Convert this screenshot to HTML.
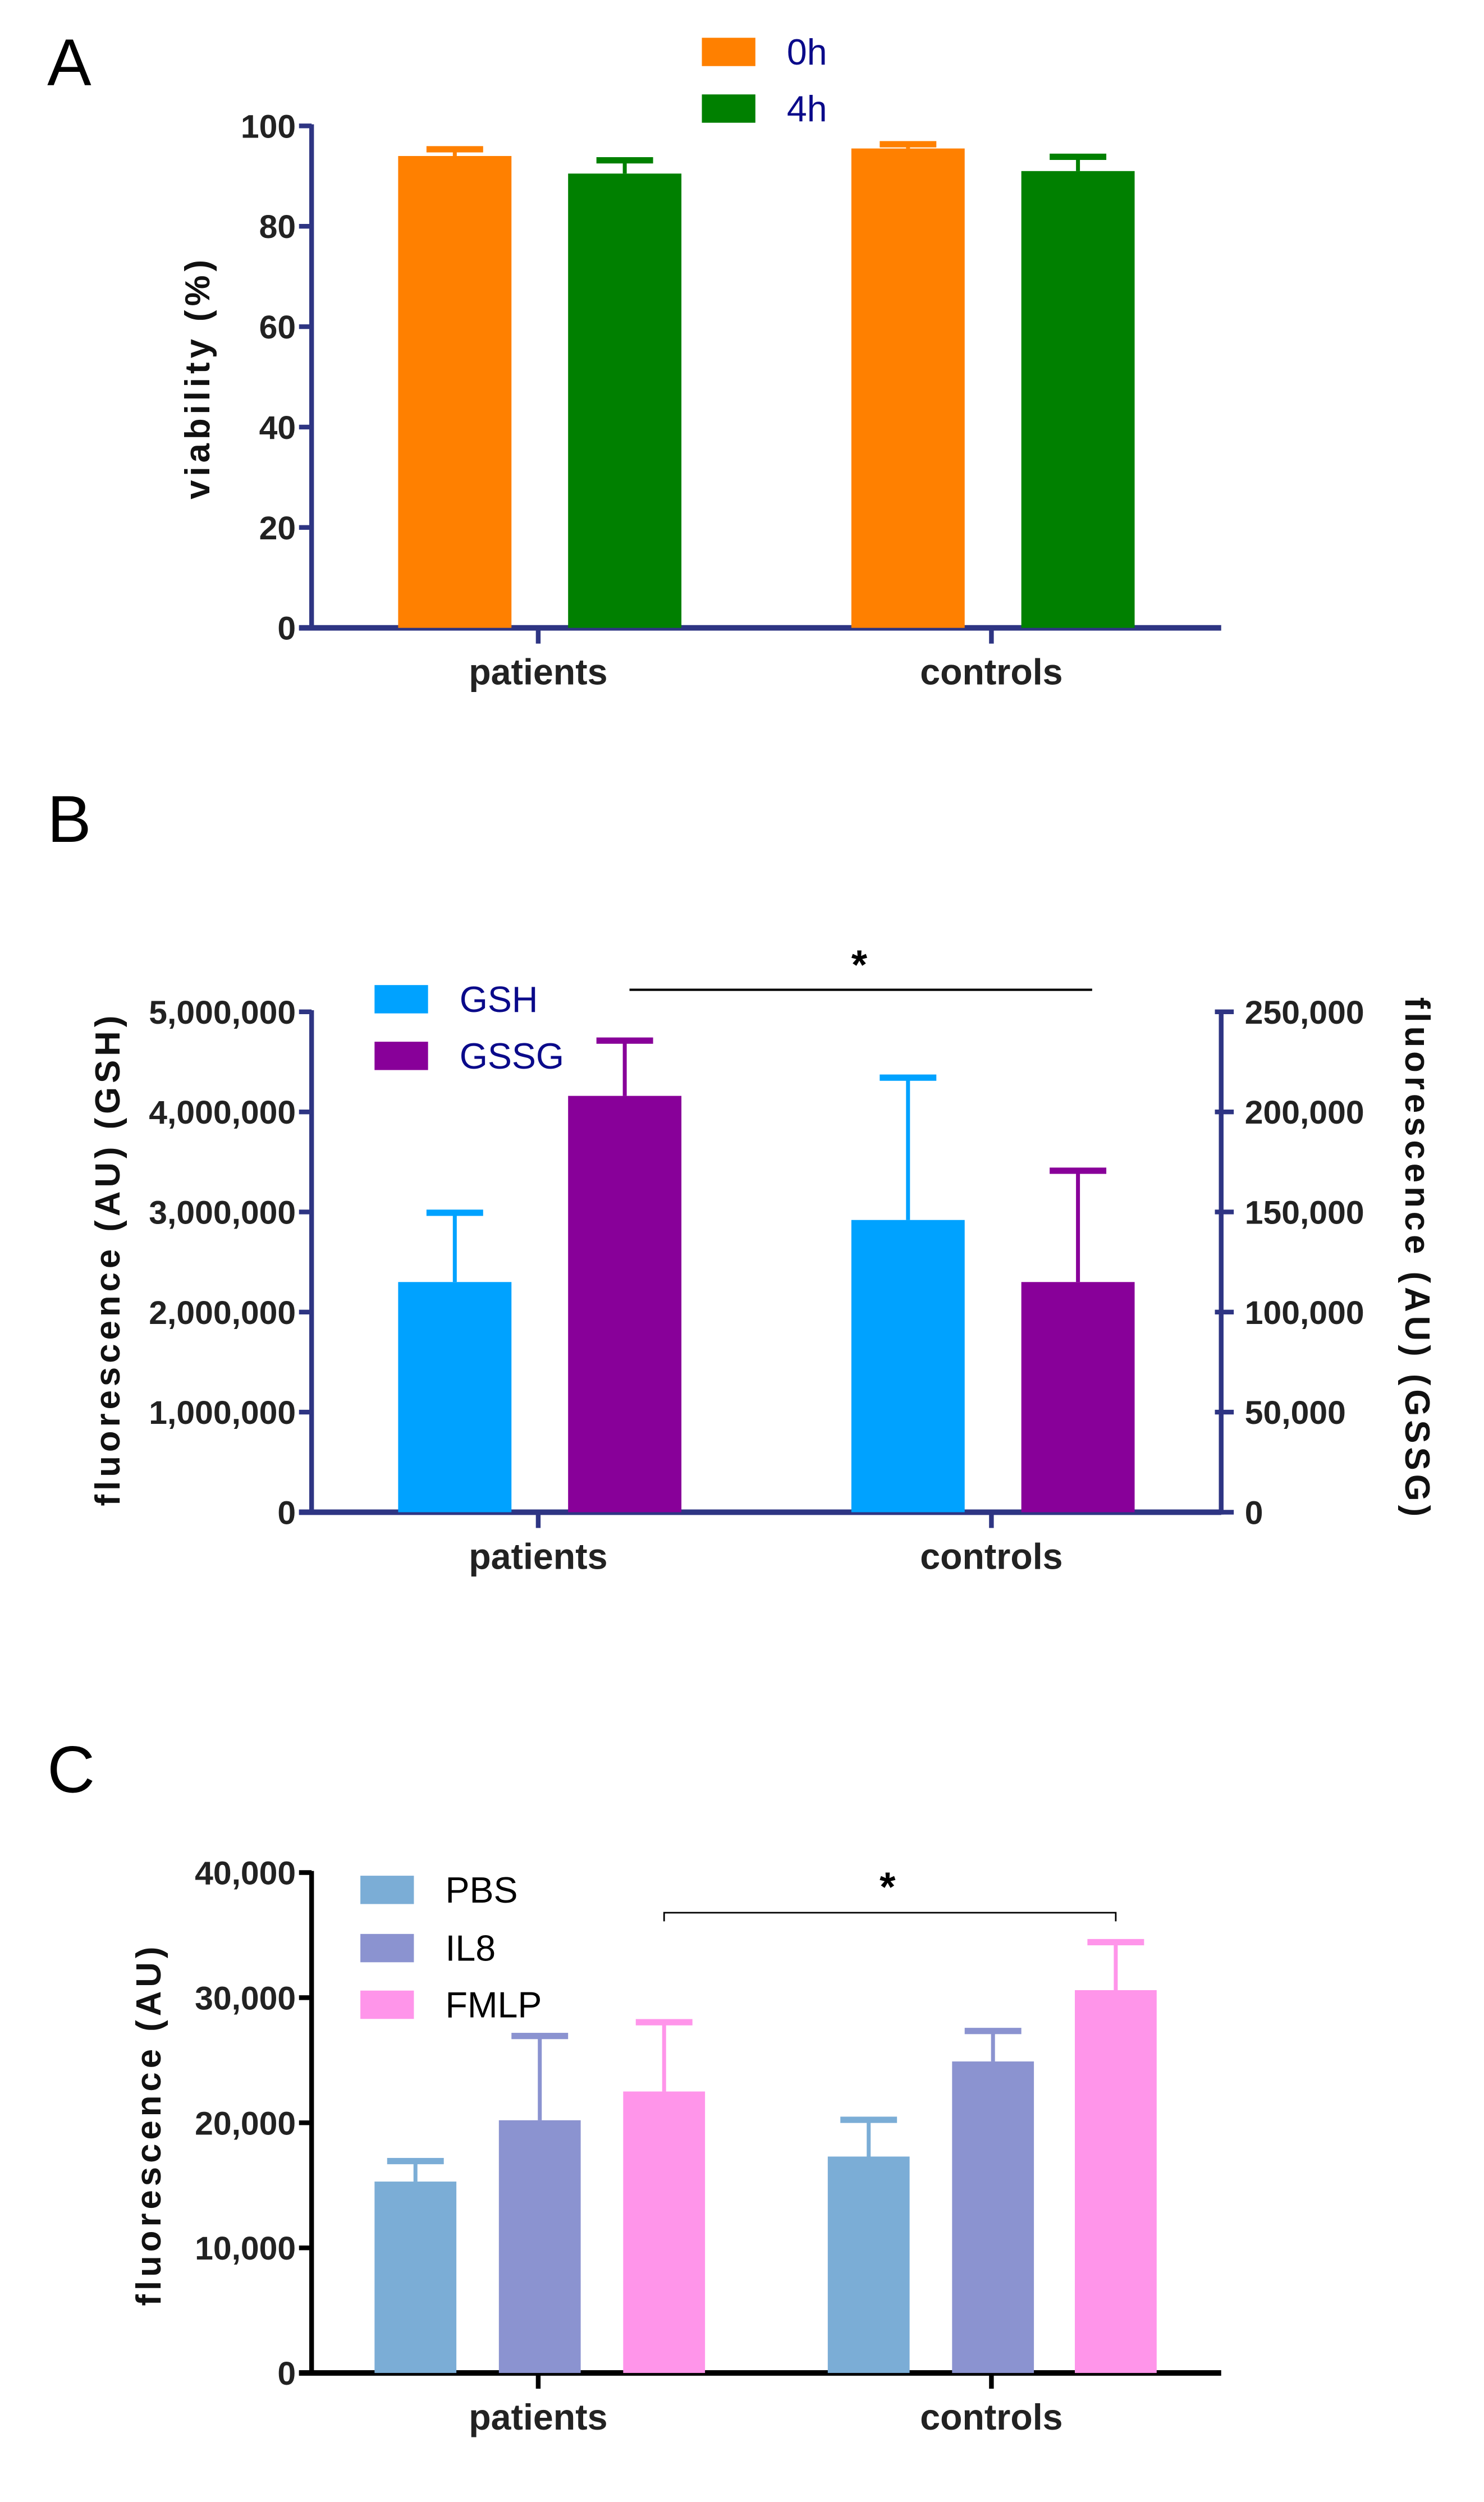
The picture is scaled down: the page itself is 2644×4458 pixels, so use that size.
<!DOCTYPE html>
<html><head><meta charset="utf-8"><style>
html,body{margin:0;padding:0;background:#fff}
svg{display:block}
text{font-family:"Liberation Sans Narrow","Liberation Sans",sans-serif}
.tk{font-weight:bold;font-size:21px;fill:#222}
.lab{font-family:"Liberation Sans",sans-serif;font-weight:bold;fill:#111}
.leg{font-family:"Liberation Sans Narrow","Liberation Sans",sans-serif;font-size:23px;fill:#0a0a8a}
</style></head><body>
<svg id="fig" width="2644" height="4458" viewBox="0 0 943 1590" xmlns="http://www.w3.org/2000/svg"></svg>
<script>
// Panel A data (index = category: patients, controls)
const catsA = ["patients","controls"];
const seriesA = ["0h","4h"];
const valsA0 = [94, 95.5];
const errA0 = [95.5, 96.5];
const valsA1 = [90.5, 91];
const errA1 = [93.3, 94];
const ticksA = [0,20,40,60,80,100];
// Panel B data
const seriesB = ["GSH","GSSG"];
const gshVals = [2300000, 2920000];
const gshErr = [3000000, 4350000];
const gssgVals = [208000, 115000];
const gssgErr = [236000, 171000];
const ticksBL = [0,1000000,2000000,3000000,4000000,5000000];
const ticksBR = [0,50000,100000,150000,200000,250000];
// Panel C data
const seriesC = ["PBS","IL8","FMLP"];
const pbsVals = [15300, 17300];
const pbsErr = [17000, 20300];
const il8Vals = [20200, 24900];
const il8Err = [27000, 27400];
const fmlpVals = [22500, 30600];
const fmlpErr = [28100, 34500];
const ticksC = [0,10000,20000,30000,40000];

const svg = document.getElementById('fig');
const NS = "http://www.w3.org/2000/svg";
function mk(tag, attrs, parent){const e=document.createElementNS(NS,tag);for(const k in attrs)e.setAttribute(k,attrs[k]);(parent||svg).appendChild(e);return e;}
function txt(s, attrs){const e=mk('text',attrs);e.textContent=s;return e;}
function fmt(v){return v.toLocaleString('en-US');}

function bar(x,w,y0,y1,color,ey,name){
  const r=mk('rect',{x:x,y:y1,width:w,height:y0-y1,fill:color});
  
  
  const cx=x+w/2;
  const l=mk('line',{x1:cx,x2:cx,y1:y1,y2:ey,stroke:color,'stroke-width':2.5});
  
  
  const c=mk('rect',{x:cx-18,y:ey-1.5,width:36,height:4,fill:color});
  
  
}

function axes(col, y0, ytop, ticks, yFn, xEnd, rightTicks, yFnR){
  const ax=mk('line',{x1:198,x2:198,y1:ytop-1,y2:y0+1.5,stroke:col,'stroke-width':3});
  
  
  const bx=mk('line',{x1:190,x2:xEnd,y1:y0,y2:y0,stroke:col,'stroke-width':3.5});
  
  
  ticks.forEach(t=>{
    const y=yFn(t);
    mk('line',{x1:190,x2:198,y1:y,y2:y,stroke:col,'stroke-width':3});
    const tl=txt(fmt(t),{x:188,y:y+7.5,'text-anchor':'end',class:'tk'});
    
    
  });
  if(rightTicks){
    mk('line',{x1:776,x2:776,y1:ytop-1,y2:y0+1.5,stroke:col,'stroke-width':3});
    rightTicks.forEach(t=>{
      const y=yFnR(t);
      mk('line',{x1:772,x2:784,y1:y,y2:y,stroke:col,'stroke-width':3});
      const tl=txt(fmt(t),{x:791,y:y+7.5,'text-anchor':'start',class:'tk'});
      
      
    });
  }
  [342,630].forEach((x,i)=>{
    mk('line',{x1:x,x2:x,y1:y0,y2:y0+10,stroke:col,'stroke-width':3});
    const cl=txt(catsA[i],{x:x,y:y0+36,'text-anchor':'middle',class:'tk',style:'font-size:23px'});
    
    
  });
}
function legend(x,y,color,label,name,tcol){
  const r=mk('rect',{x:x,y:y,width:34,height:18,fill:color});
  
  
  const t=txt(label,{x:x+54,y:y+17,class:'leg'});
  if(tcol) t.setAttribute('style','fill:'+tcol);
  
  
}
function panelLetter(s,y){
  const t=txt(s,{x:30,y:y,style:'font-family:"Liberation Sans",sans-serif;font-size:42px;fill:#000'});
  
  
}

// ---- Panel A ----
panelLetter('A',54);
const yA=v=>399-(v/100)*319;
axes('#2e3583',399,80,ticksA,yA,776);
const cxA=[[253,361],[541,649]];
for(let i=0;i<2;i++){
  bar(cxA[i][0],72,399,yA(valsA0[i]),'#ff8000',yA(errA0[i]),'bar-0h-'+catsA[i]);
  bar(cxA[i][1],72,399,yA(valsA1[i]),'#008000',yA(errA1[i]),'bar-4h-'+catsA[i]);
}
legend(446,24,'#ff8000',seriesA[0],'legend-0h');
legend(446,60,'#008000',seriesA[1],'legend-4h');
let yl=txt('viability (%)',{x:0,y:0,class:'lab',transform:'translate(133,240) rotate(-90)','text-anchor':'middle',style:'font-size:22px;letter-spacing:2.5px'});



// ---- Panel B ----
panelLetter('B',535);
const yBL=v=>961-(v/5000000)*318;
const yBR=v=>961-(v/250000)*318;
axes('#2e3583',961,643,ticksBL,yBL,776,ticksBR,yBR);
for(let i=0;i<2;i++){
  bar(cxA[i][0],72,961,yBL(gshVals[i]),'#00a2ff',yBL(gshErr[i]),'bar-gsh-'+catsA[i]);
  bar(cxA[i][1],72,961,yBR(gssgVals[i]),'#880099',yBR(gssgErr[i]),'bar-gssg-'+catsA[i]);
}
legend(238,626,'#00a2ff',seriesB[0],'legend-gsh');
legend(238,662,'#880099',seriesB[1],'legend-gssg');
let sb=mk('line',{x1:400,x2:694,y1:629,y2:629,stroke:'#000','stroke-width':1.5});


let st=txt('*',{x:546,y:622,'text-anchor':'middle',style:'font-family:"Liberation Sans",sans-serif;font-size:26px;font-weight:bold'});


yl=txt('fluorescence (AU) (GSH)',{x:0,y:0,class:'lab',transform:'translate(76,800) rotate(-90)','text-anchor':'middle',style:'font-size:22px;letter-spacing:2.5px'});


yl=txt('fluorescence (AU) (GSSG)',{x:0,y:0,class:'lab',transform:'translate(893,800) rotate(90)','text-anchor':'middle',style:'font-size:22px;letter-spacing:2.5px'});



// ---- Panel C ----
panelLetter('C',1139);
const yC=v=>1508-(v/40000)*318;
axes('#000',1508,1190,ticksC,yC,776);
const xsC=[[238,317,396],[526,605,683]];
const colsC=['#7badd6','#8b93d0','#ff95ea'];
const vC=[pbsVals,il8Vals,fmlpVals], eC=[pbsErr,il8Err,fmlpErr];
for(let i=0;i<2;i++)for(let s=0;s<3;s++){
  bar(xsC[i][s],52,1508,yC(vC[s][i]),colsC[s],yC(eC[s][i]),'bar-'+seriesC[s].toLowerCase()+'-'+catsA[i]);
}
legend(229,1192,colsC[0],seriesC[0],'legend-pbs','#000');
legend(229,1229,colsC[1],seriesC[1],'legend-il8','#000');
legend(229,1265,colsC[2],seriesC[2],'legend-fmlp','#000');
sb=mk('path',{d:'M422,1221 V1215.5 H709 V1221',fill:'none',stroke:'#000','stroke-width':1});


st=txt('*',{x:564,y:1208,'text-anchor':'middle',style:'font-family:"Liberation Sans",sans-serif;font-size:26px;font-weight:bold'});


yl=txt('fluorescence (AU)',{x:0,y:0,class:'lab',transform:'translate(102,1350) rotate(-90)','text-anchor':'middle',style:'font-size:22px;letter-spacing:2.5px'});


</script>
</body></html>
